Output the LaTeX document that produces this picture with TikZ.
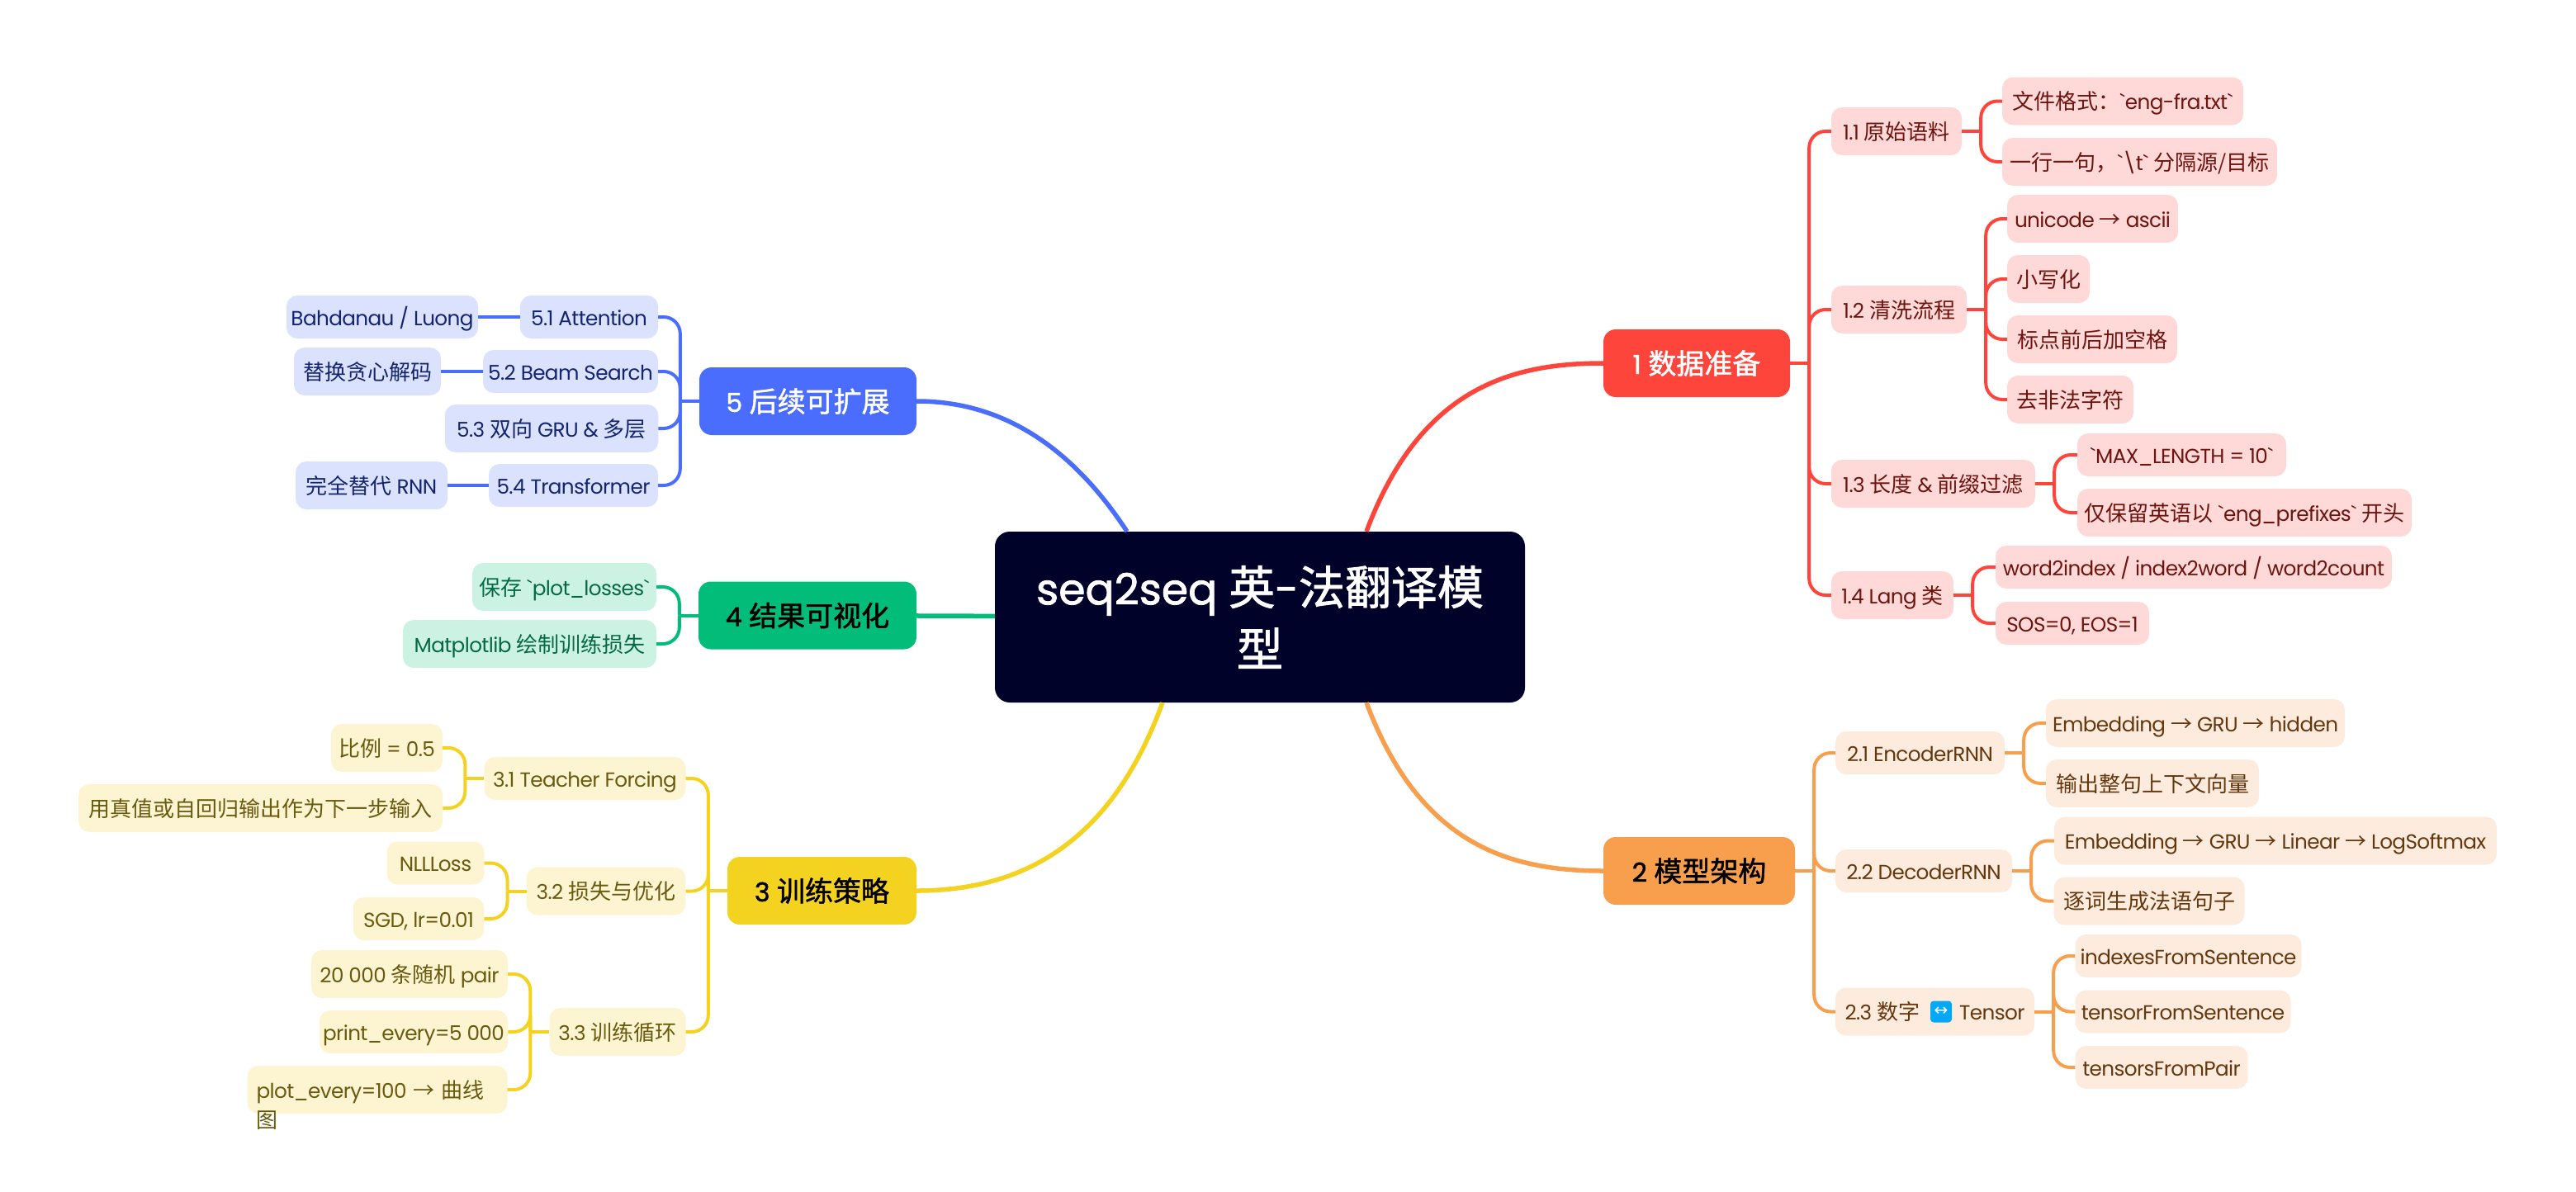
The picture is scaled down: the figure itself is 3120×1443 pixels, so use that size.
\documentclass[tikz,border=0pt]{standalone}
\usepackage{fontspec}
\setmainfont{Poppins}[Scale=0.95, LetterSpace=-2.5]
\newfontfamily\cjk{Noto Sans CJK SC}
\newfontfamily\headlatin{Poppins}[Scale=0.93, FakeBold=1.5]
\newfontfamily\headcjk{Noto Sans CJK SC}[FakeBold=1.5]
\newfontfamily\symb{DejaVu Sans}
\newcommand{\zh}[1]{{\cjk #1}}
\newcommand{\zb}[1]{{\headcjk #1}}
\newcommand{\tick}{\textasciigrave}
\usetikzlibrary{calc}
\definecolor{hubdark}{RGB}{0,2,41}
\definecolor{swapblue}{RGB}{3,169,244}
\definecolor{datamain}{RGB}{253,69,60}
\definecolor{datasoft}{RGB}{255,217,215}
\definecolor{datatext}{RGB}{110,20,15}
\definecolor{modelmain}{RGB}{247,159,77}
\definecolor{modelsoft}{RGB}{253,236,221}
\definecolor{modeltext}{RGB}{100,55,15}
\definecolor{trainmain}{RGB}{244,211,32}
\definecolor{trainsoft}{RGB}{253,245,210}
\definecolor{traintext}{RGB}{105,90,15}
\definecolor{vizmain}{RGB}{2,189,121}
\definecolor{vizsoft}{RGB}{204,242,228}
\definecolor{viztext}{RGB}{5,105,70}
\definecolor{extmain}{RGB}{74,109,254}
\definecolor{extsoft}{RGB}{219,226,254}
\definecolor{exttext}{RGB}{20,36,110}

\begin{document}
\begin{tikzpicture}[
  x=1pt, y=-1pt,
  hub/.style={rectangle, fill=hubdark, text=white, rounded corners=18,
              minimum width=642, minimum height=207, inner sep=0, align=center,
              font=\fontsize{56}{75}\selectfont\headlatin},
  topic/.style={rectangle, fill=#1main, rounded corners=15, minimum height=82,
                inner sep=0, text height=26, text depth=0,
                font=\fontsize{34}{40}\selectfont\headlatin},
  leaf/.style={rectangle, fill=#1soft, text=#1text, rounded corners=13,
               minimum height=58, inner sep=0, text height=20, text depth=0,
               font=\fontsize{26}{32}\selectfont},
  low/.style={minimum height=52},
  bw/.style={minimum width=#1},
  link/.style={draw=#1main, line width=5.5},
  spine/.style={draw=#1main, line width=4, rounded corners=20},
  swap/.style={rectangle, fill=swapblue, text=white, rounded corners=4,
               minimum size=26, inner sep=0, font=\fontsize{20}{20}\symb},
]
\useasboundingbox (0,0) rectangle (3120,1443);

% Centre
\node[hub] (seq) at (1526, 747.5) {seq2seq \zb{英}-\zb{法翻译模}\\\zb{型}};

% Topics
\node[topic=data, bw=226, text=white] (d) at (2055, 440) {1 \zb{数据准备}};
\node[topic=model, bw=232, text=black] (m) at (2058, 1055) {2 \zb{模型架构}};
\node[topic=train, bw=229, text=black] (t) at (995.5, 1079) {3 \zb{训练策略}};
\node[topic=viz, bw=264, text=black] (v) at (978, 745.5) {4 \zb{结果可视化}};
\node[topic=ext, bw=263, text=white] (e) at (978.5, 486) {5 \zb{后续可扩展}};

% Branch 1
\node[leaf=data, bw=158] (d1) at (2297, 159) {1.1 \zh{原始语料}};
\node[leaf=data, bw=292] (d11) at (2571, 122.5) {\zh{文件格式：}\tick eng-fra.txt\tick};
\node[leaf=data, bw=333] (d12) at (2591.5, 196) {\zh{一行一句，}\tick\textbackslash t\tick{} \zh{分隔源/目标}};
\node[leaf=data, bw=164] (d2) at (2300, 375) {1.2 \zh{清洗流程}};
\node[leaf=data, bw=207] (d21) at (2534.5, 265) {unicode \zh{→} ascii};
\node[leaf=data, bw=100] (d22) at (2481, 338) {\zh{小写化}};
\node[leaf=data, bw=206] (d23) at (2534, 411) {\zh{标点前后加空格}};
\node[leaf=data, bw=153] (d24) at (2507.5, 484) {\zh{去非法字符}};
\node[leaf=data, bw=247] (d3) at (2341.5, 586) {1.3 \zh{长度} \& \zh{前缀过滤}};
\node[leaf=data, low, bw=253] (d31) at (2642.5, 551) {\tick MAX\_LENGTH = 10\tick};
\node[leaf=data, bw=405] (d32) at (2718.5, 621) {\zh{仅保留英语以} \tick eng\_prefixes\tick{} \zh{开头}};
\node[leaf=data, bw=148] (d4) at (2292, 721) {1.4 Lang \zh{类}};
\node[leaf=data, low, bw=480] (d41) at (2657, 687) {word2index / index2word / word2count};
\node[leaf=data, low, bw=186] (d42) at (2510, 755) {SOS=0, EOS=1};

% Branch 2
\node[leaf=model, low, bw=205] (m1) at (2325.5, 912) {2.1 EncoderRNN};
\node[leaf=model, bw=362] (m11) at (2659, 876) {Embedding \zh{→} GRU \zh{→} hidden};
\node[leaf=model, bw=258] (m12) at (2607, 949) {\zh{输出整句上下文向量}};
\node[leaf=model, low, bw=214] (m2) at (2330, 1055) {2.2 DecoderRNN};
\node[leaf=model, bw=536] (m21) at (2756, 1018.5) {Embedding \zh{→} GRU \zh{→} Linear \zh{→} LogSoftmax};
\node[leaf=model, bw=231] (m22) at (2603, 1091.5) {\zh{逐词生成法语句子}};
\node[leaf=model, bw=241] (m3) at (2343.5, 1225.5) {2.3 \zh{数字}\hspace{48pt}Tensor};
\node[swap] (m3icon) at (2351, 1225.5) {↔};
\node[leaf=model, low, bw=274] (m31) at (2650.5, 1158) {indexesFromSentence};
\node[leaf=model, low, bw=261] (m32) at (2644, 1225.5) {tensorFromSentence};
\node[leaf=model, low, bw=209] (m33) at (2618, 1293) {tensorsFromPair};

% Branch 3
\node[leaf=train, low, bw=244] (t1) at (708.5, 943) {3.1 Teacher Forcing};
\node[leaf=train, bw=135] (t11) at (468.5, 906) {\zh{比例} = 0.5};
\node[leaf=train, bw=441] (t12) at (315.7, 979) {\zh{用真值或自回归输出作为下一步输入}};
\node[leaf=train, bw=192.6] (t2) at (734, 1079.5) {3.2 \zh{损失与优化}};
\node[leaf=train, low, bw=118] (t21) at (527.5, 1045.5) {NLLLoss};
\node[leaf=train, low, bw=158.5] (t22) at (507, 1113) {SGD, lr=0.01};
\node[leaf=train, bw=165] (t3) at (748, 1250) {3.3 \zh{训练循环}};
\node[leaf=train, bw=238] (t31) at (496, 1180) {20 000 \zh{条随机} pair};
\node[leaf=train, low, bw=228.5] (t32) at (501, 1250) {print\_every=5 000};
\node[leaf=train, bw=315, align=left, text width=293] (t33) at (457, 1320) {\rlap{\raisebox{-36pt}[0pt][0pt]{\zh{图}}}plot\_every=100 \zh{→} \zh{曲线}};

% Branch 4
\node[leaf=viz, bw=223] (v1) at (683.5, 711) {\zh{保存} \tick plot\_losses\tick};
\node[leaf=viz, bw=307] (v2) at (641.5, 780) {Matplotlib \zh{绘制训练损失}};

% Branch 5
\node[leaf=ext, low, bw=167] (e1) at (713.5, 384) {5.1 Attention};
\node[leaf=ext, low, bw=232] (e11) at (463, 384) {Bahdanau / Luong};
\node[leaf=ext, low, bw=212] (e2) at (691, 450) {5.2 Beam Search};
\node[leaf=ext, bw=178] (e21) at (445, 450) {\zh{替换贪心解码}};
\node[leaf=ext, bw=258.5] (e3) at (668, 519) {5.3 \zh{双向} GRU \& \zh{多层}};
\node[leaf=ext, low, bw=205] (e4) at (694.5, 588) {5.4 Transformer};
\node[leaf=ext, bw=184] (e41) at (450, 588) {\zh{完全替代} RNN};

% Main links
\draw[link=data] ($(seq.north)+(129,0)$) .. controls (1720, 470) and (1830, 440) .. (d.west);
\draw[link=model] ($(seq.south)+(129,0)$) .. controls (1720, 1025) and (1830, 1055) .. (m.west);
\draw[link=train] ($(seq.south)+(-118,0)$) .. controls (1350, 1010) and (1250, 1079) .. (t.east);
\draw[link=viz] (seq) -- (v);
\draw[link=ext] ($(seq.north)+(-161,0)$) .. controls (1310, 560) and (1230, 486) .. (e.east);

% Forks on the right
\foreach \pa/\kids/\tone in {d/{d1,d2,d3,d4}/data, d1/{d11,d12}/data, d2/{d21,d22,d23,d24}/data,
                             d3/{d31,d32}/data, d4/{d41,d42}/data,
                             m/{m1,m2,m3}/model, m1/{m11,m12}/model, m2/{m21,m22}/model, m3/{m31,m32,m33}/model} {
  \draw[spine=\tone] (\pa.east) -- ++(23, 0) coordinate (\pa fork);
  \foreach \kid in \kids {
    \draw[spine=\tone] (\pa fork) |- (\kid.west);
  }
}

% Forks on the left
\foreach \pa/\kids/\tone in {t/{t1,t2,t3}/train, t1/{t11,t12}/train, t2/{t21,t22}/train, t3/{t31,t32,t33}/train,
                             v/{v1,v2}/viz, e/{e1,e2,e3,e4}/ext} {
  \draw[spine=\tone] (\pa.west) -- ++(-23, 0) coordinate (\pa fork);
  \foreach \kid in \kids {
    \draw[spine=\tone] (\pa fork) |- (\kid.east);
  }
}
\draw[spine=ext] (e1) -- (e11);
\draw[spine=ext] (e2) -- (e21);
\draw[spine=ext] (e4) -- (e41);

\end{tikzpicture}
\end{document}
